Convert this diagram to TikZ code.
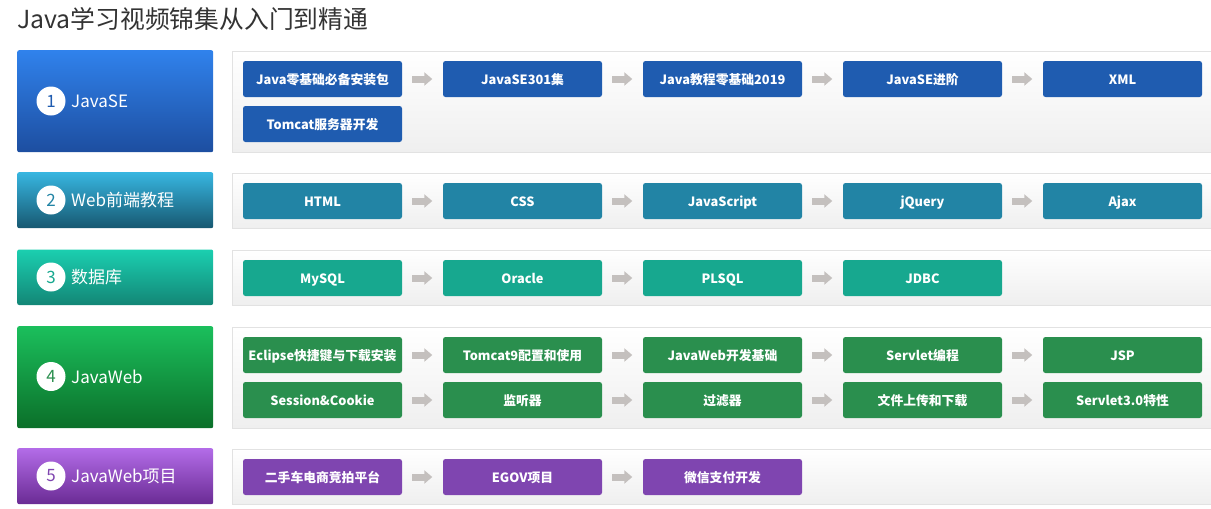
\documentclass[tikz,border=0pt]{standalone}
\usepackage{fontspec}
\setmainfont{Noto Sans CJK SC}
\usetikzlibrary{arrows.meta}
\definecolor{titlegray}{HTML}{333333}
\definecolor{arrgray}{HTML}{C4C0BE}
\definecolor{panelborder}{HTML}{E2E2E2}
\definecolor{panelbot}{HTML}{EFEFEF}
\definecolor{aT}{HTML}{3082EC}\definecolor{aB}{HTML}{1D4EA0}\definecolor{aI}{HTML}{1F5CB0}
\definecolor{bT}{HTML}{37B6E1}\definecolor{bB}{HTML}{175871}\definecolor{bI}{HTML}{2284A5}
\definecolor{cT}{HTML}{1BCFB0}\definecolor{cB}{HTML}{138676}\definecolor{cI}{HTML}{17A88F}
\definecolor{dT}{HTML}{1BBF5C}\definecolor{dB}{HTML}{0B6F29}\definecolor{dI}{HTML}{2A8F4E}
\definecolor{eT}{HTML}{B36CE8}\definecolor{eB}{HTML}{6A2B94}\definecolor{eI}{HTML}{7F45B0}
\tikzset{
  headbox/.style={rounded corners=2pt, minimum width=196pt, anchor=north west, inner sep=0pt},
  panel/.style={draw=panelborder, line width=0.8pt, top color=white, bottom color=panelbot, anchor=north west, minimum width=985pt, inner sep=0pt},
  item/.style={rounded corners=2.5pt, minimum width=159pt, minimum height=36pt, inner sep=0pt, text=white, text height=12.6pt, text depth=0.8pt, font=\fontsize{12.8}{14}\selectfont\bfseries},
  num/.style={circle, fill=white, minimum size=29pt, inner sep=0pt, font=\fontsize{17}{18}\selectfont},
  headlabel/.style={anchor=west, text=white, inner sep=0pt, font=\fontsize{17}{20}\selectfont},
  flow/.style={arrgray, line width=7pt, -{Triangle[width=13pt,length=8pt]}, shorten <=10pt, shorten >=10.5pt},
}
\begin{document}
\begin{tikzpicture}[x=1pt,y=-1pt]
\useasboundingbox (0,0) rectangle (1211,509);
\node[anchor=base west, inner sep=0pt, text=titlegray, font=\fontsize{24.8}{28}\selectfont] (title) at (17,28.5) {Java学习视频锦集从入门到精通};

% ---- row 1
\node[headbox, minimum height=102pt, top color=aT, bottom color=aB] (h1) at (17,50) {};
\node[num, text=aI] (n1) at (51,101) {1};
\node[headlabel] (l1) at (71,101) {JavaSE};
\node[panel, minimum height=101pt] (p1) at (232,50.5) {};
\node[item, fill=aI] (a1) at (322.5,79) {Java零基础必备安装包};
\node[item, fill=aI] (a2) at (522.5,79) {JavaSE301集};
\node[item, fill=aI] (a3) at (722.5,79) {Java教程零基础2019};
\node[item, fill=aI] (a4) at (922.5,79) {JavaSE进阶};
\node[item, fill=aI] (a5) at (1122.5,79) {XML};
\node[item, fill=aI] (a6) at (322.5,124) {Tomcat服务器开发};
\foreach \i/\j in {1/2,2/3,3/4,4/5} \draw[flow] (a\i) -- (a\j);

% ---- row 2
\node[headbox, minimum height=56pt, top color=bT, bottom color=bB] (h2) at (17,172) {};
\node[num, text=bI] (n2) at (51,200) {2};
\node[headlabel] (l2) at (71,200) {Web前端教程};
\node[panel, minimum height=55pt] (p2) at (232,172.5) {};
\node[item, fill=bI] (b1) at (322.5,201) {HTML};
\node[item, fill=bI] (b2) at (522.5,201) {CSS};
\node[item, fill=bI] (b3) at (722.5,201) {JavaScript};
\node[item, fill=bI] (b4) at (922.5,201) {jQuery};
\node[item, fill=bI] (b5) at (1122.5,201) {Ajax};
\foreach \i/\j in {1/2,2/3,3/4,4/5} \draw[flow] (b\i) -- (b\j);

% ---- row 3
\node[headbox, minimum height=55.5pt, top color=cT, bottom color=cB] (h3) at (17,249.3) {};
\node[num, text=cI] (n3) at (51,277) {3};
\node[headlabel] (l3) at (71,277) {数据库};
\node[panel, minimum height=55pt] (p3) at (232,249.5) {};
\node[item, fill=cI] (c1) at (322.5,278) {MySQL};
\node[item, fill=cI] (c2) at (522.5,278) {Oracle};
\node[item, fill=cI] (c3) at (722.5,278) {PLSQL};
\node[item, fill=cI] (c4) at (922.5,278) {JDBC};
\foreach \i/\j in {1/2,2/3,3/4} \draw[flow] (c\i) -- (c\j);

% ---- row 4
\node[headbox, minimum height=102pt, top color=dT, bottom color=dB] (h4) at (17,326) {};
\node[num, text=dI] (n4) at (51,376.5) {4};
\node[headlabel] (l4) at (71,376.5) {JavaWeb};
\node[panel, minimum height=101pt] (p4) at (232,326.5) {};
\node[item, fill=dI] (d1) at (322.5,355) {Eclipse快捷键与下载安装};
\node[item, fill=dI] (d2) at (522.5,355) {Tomcat9配置和使用};
\node[item, fill=dI] (d3) at (722.5,355) {JavaWeb开发基础};
\node[item, fill=dI] (d4) at (922.5,355) {Servlet编程};
\node[item, fill=dI] (d5) at (1122.5,355) {JSP};
\node[item, fill=dI] (d6) at (322.5,400) {Session\&Cookie};
\node[item, fill=dI] (d7) at (522.5,400) {监听器};
\node[item, fill=dI] (d8) at (722.5,400) {过滤器};
\node[item, fill=dI] (d9) at (922.5,400) {文件上传和下载};
\node[item, fill=dI] (d10) at (1122.5,400) {Servlet3.0特性};
\foreach \i/\j in {1/2,2/3,3/4,4/5,6/7,7/8,8/9,9/10} \draw[flow] (d\i) -- (d\j);

% ---- row 5
\node[headbox, minimum height=56pt, top color=eT, bottom color=eB] (h5) at (17,448) {};
\node[num, text=eI] (n5) at (51,476) {5};
\node[headlabel] (l5) at (71,476) {JavaWeb项目};
\node[panel, minimum height=55pt] (p5) at (232,448.5) {};
\node[item, fill=eI] (e1) at (322.5,477) {二手车电商竞拍平台};
\node[item, fill=eI] (e2) at (522.5,477) {EGOV项目};
\node[item, fill=eI] (e3) at (722.5,477) {微信支付开发};
\foreach \i/\j in {1/2,2/3} \draw[flow] (e\i) -- (e\j);
\end{tikzpicture}
\end{document}
